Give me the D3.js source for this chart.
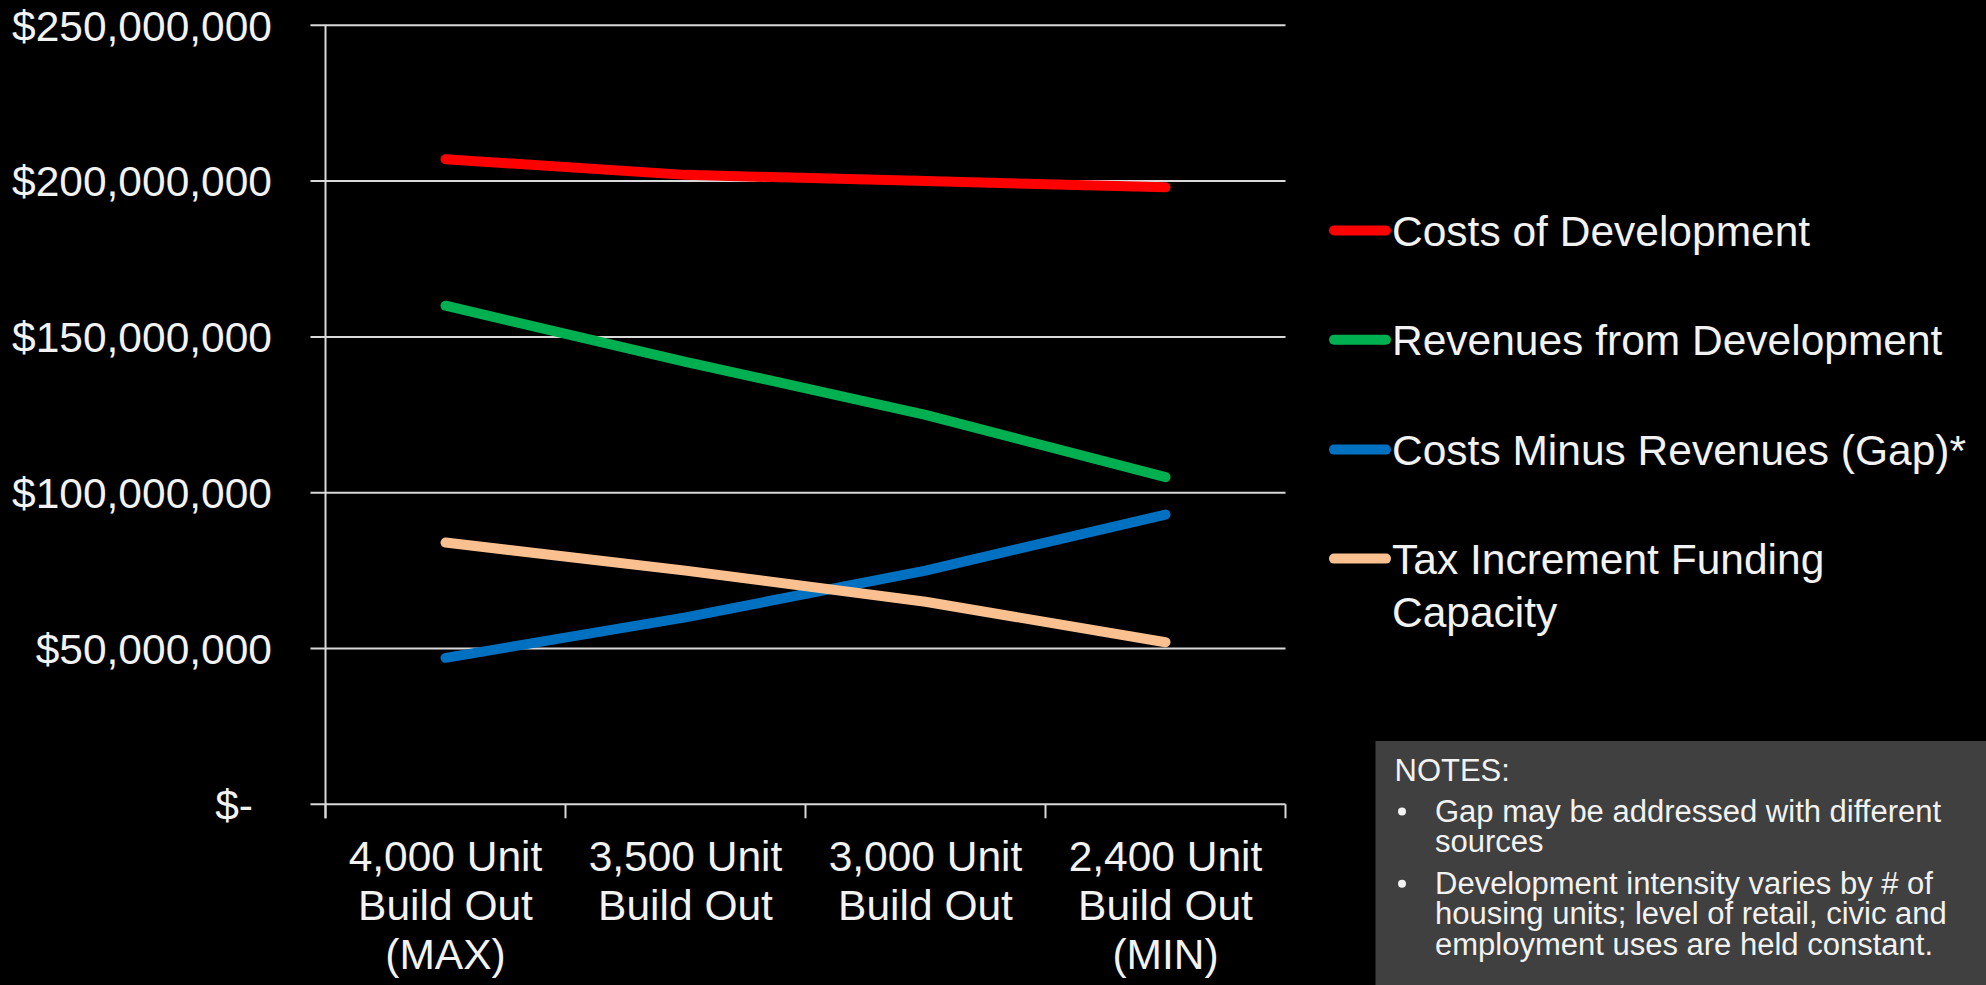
<!DOCTYPE html>
<html>
<head>
<meta charset="utf-8">
<script src="https://cdn.jsdelivr.net/npm/d3@7"></script>
<style>
  html, body { margin: 0; padding: 0; background: #000; }
  svg { display: block; }
  text { font-family: "Liberation Sans", Arial, sans-serif; fill: #f2f2f2; }
</style>
</head>
<body>
<svg width="1986" height="985"></svg>
<script>
// categories and series (values in dollars)
var categories = [["4,000 Unit", "Build Out", "(MAX)"], ["3,500 Unit", "Build Out"], ["3,000 Unit", "Build Out"], ["2,400 Unit", "Build Out", "(MIN)"]];
var seriesNames = ["Costs of Development", "Revenues from Development", "Costs Minus Revenues (Gap)*", "Tax Increment Funding Capacity"];
var costs    = [207e6, 202e6, 200e6, 198e6];
var revenues = [160e6, 142e6, 125e6, 105e6];
var gap      = [47e6, 60e6, 75e6, 93e6];
var tif      = [84e6, 75e6, 65e6, 52e6];
var yTicks   = [0, 50e6, 100e6, 150e6, 200e6, 250e6];
var notes    = ["Gap may be addressed with different|sources", "Development intensity varies by # of|housing units; level of retail, civic and|employment uses are held constant."];

var colors = ["#ff0000", "#00b050", "#0070c0", "#fac090"];
var allSeries = [costs, revenues, gap, tif];

var svg = d3.select("svg");
var plotL = 325.5, plotR = 1285.5, plotT = 25.3, plotB = 804.3;

var x = d3.scaleBand()
          .domain(d3.range(categories.length))
          .range([plotL, plotR]);
var y = d3.scaleLinear()
          .domain([0, 250e6])
          .range([plotB, plotT]);

//Gridlines
svg.append("g").selectAll("line")
   .data(yTicks)
   .enter().append("line")
     .attr("x1", plotL - 15)
     .attr("x2", plotR)
     .attr("y1", d => y(d))
     .attr("y2", d => y(d))
     .attr("stroke", "#d9d9d9")
     .attr("stroke-width", 2);

//Y axis line
svg.append("line")
   .attr("x1", plotL).attr("x2", plotL)
   .attr("y1", plotT).attr("y2", plotB + 14)
   .attr("stroke", "#d9d9d9").attr("stroke-width", 2);

//X tick marks at category boundaries
var bounds = x.domain().map(d => x(d)).concat([plotR]);
svg.append("g").selectAll("line")
   .data(bounds)
   .enter().append("line")
     .attr("x1", d => d).attr("x2", d => d)
     .attr("y1", plotB).attr("y2", plotB + 14)
     .attr("stroke", "#d9d9d9").attr("stroke-width", 2);

//Y labels
var fmt = d3.format(",");
svg.append("g").selectAll("text")
   .data(yTicks)
   .enter().append("text")
     .attr("x", d => d === 0 ? 253 : 272)
     .attr("y", d => y(d))
     .attr("dy", "0.36em")
     .attr("text-anchor", "end")
     .style("font-size", "42.5px")
     .text(d => d === 0 ? "$-" : "$" + fmt(d));

//X labels
var xl = svg.append("g").selectAll("text")
   .data(categories)
   .enter().append("text")
     .attr("text-anchor", "middle")
     .style("font-size", "42.5px")
     .attr("transform", (d, i) => "translate(" + (x(i) + x.bandwidth() / 2) + ",856)");
xl.selectAll("tspan")
   .data(d => d)
   .enter().append("tspan")
     .attr("x", 0)
     .attr("y", (d, i) => i * 48.8)
     .attr("dy", "0.36em")
     .text(d => d);

//Lines
var line = d3.line()
             .x((d, i) => x(i) + x.bandwidth() / 2)
             .y(d => y(d));
svg.append("g").selectAll("path")
   .data(allSeries)
   .enter().append("path")
     .attr("d", line)
     .attr("fill", "none")
     .attr("stroke", (d, i) => colors[i])
     .attr("stroke-width", 10)
     .attr("stroke-linecap", "round")
     .attr("stroke-linejoin", "round");

//Legend
var legY = [230.5, 339.8, 449.6, 558.6];
var leg = svg.append("g").selectAll("g")
   .data(seriesNames)
   .enter().append("g")
     .attr("transform", (d, i) => "translate(1330," + legY[i] + ")");
leg.append("line")
   .attr("x1", 4).attr("x2", 56)
   .attr("stroke", (d, i) => colors[i])
   .attr("stroke-width", 10)
   .attr("stroke-linecap", "round");
leg.append("text")
   .style("font-size", "42.5px")
   .each(function(d) {
      var t = d3.select(this);
      var parts = d === "Tax Increment Funding Capacity" ? ["Tax Increment Funding", "Capacity"] : [d];
      parts.forEach(function(p, j) {
        t.append("tspan").attr("x", 62).attr("y", j * 53).attr("dy", "0.36em").text(p);
      });
   });

//Notes box
svg.append("rect")
   .attr("x", 1375.5).attr("y", 741)
   .attr("width", 1986 - 1375.5).attr("height", 985 - 741)
   .attr("fill", "#404040");
svg.append("text")
   .attr("x", 1394.5).attr("y", 770).attr("dy", "0.36em")
   .style("font-size", "31px")
   .text("NOTES:");
var lineY = [[810.6, 841], [882.8, 913, 943.6]];
notes.forEach(function(n, i) {
  svg.append("circle")
     .attr("cx", 1402).attr("cy", lineY[i][0] + 1)
     .attr("r", 4).attr("fill", "#f2f2f2");
  n.split("|").forEach(function(s, j) {
    svg.append("text")
       .attr("x", 1435).attr("y", lineY[i][j]).attr("dy", "0.36em")
       .style("font-size", "31px")
       .text(s);
  });
});
</script>
</body>
</html>
